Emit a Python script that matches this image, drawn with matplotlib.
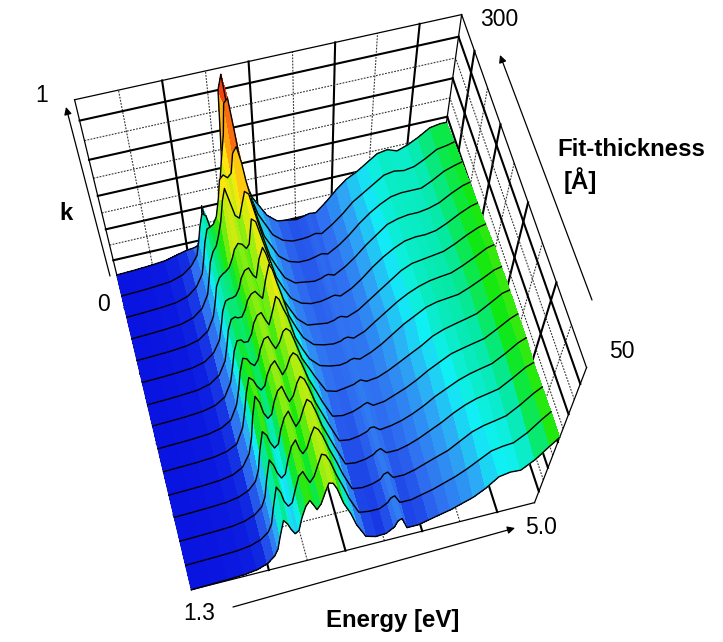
import numpy as np
import matplotlib
matplotlib.use('Agg')
import matplotlib.pyplot as plt
from matplotlib.colors import LinearSegmentedColormap
from matplotlib.patches import FancyArrowPatch

plt.rcParams['font.family'] = ['Liberation Sans', 'DejaVu Sans']

W, H = 723, 642

energy = [1.30, 1.49, 1.67, 1.86, 2.00, 2.11, 2.19, 2.23, 2.26, 2.30, 2.34, 2.37, 2.41, 2.45, 2.48, 2.52,
          2.56, 2.60, 2.63, 2.67, 2.71, 2.74, 2.78, 2.82, 2.89, 2.97, 3.04, 3.15, 3.26, 3.37, 3.45, 3.48,
          3.52, 3.59, 3.71, 3.82, 3.93, 4.04, 4.15, 4.26, 4.37, 4.48, 4.59, 4.70, 4.82, 4.93, 5.00]
thickness = [300, 282, 264, 246, 228, 210, 192, 175, 157, 139, 121, 104, 86, 68, 50]

k_300 = [.00,.004,.01,.02,.04,.055,.06,.065,.07,.13,.31,.18,.10,.10,.13,.18,.30,.55,.90,.97,.78,.60,.48,.40,.29,.22,.16,.11,.10,.09,.10,.105,.11,.105,.16,.22,.27,.30,.34,.38,.39,.37,.39,.42,.46,.47,.47]
k_282 = [.00,.004,.01,.02,.045,.09,.15,.24,.32,.40,.38,.30,.26,.30,.42,.55,.68,.80,.95,.97,.80,.66,.54,.44,.32,.24,.17,.12,.10,.10,.105,.11,.115,.105,.15,.20,.26,.30,.34,.38,.39,.38,.39,.42,.46,.47,.48]
k_264 = [.00,.004,.01,.02,.045,.095,.17,.27,.36,.44,.45,.46,.50,.60,.70,.72,.70,.72,.82,.85,.76,.66,.56,.46,.32,.24,.17,.12,.10,.10,.11,.115,.12,.11,.15,.20,.26,.31,.35,.38,.39,.39,.39,.42,.46,.48,.49]
k_246 = [.00,.004,.01,.02,.045,.095,.18,.29,.38,.44,.47,.52,.60,.72,.78,.70,.62,.60,.66,.74,.72,.65,.56,.47,.33,.24,.17,.12,.11,.10,.11,.12,.125,.11,.15,.20,.26,.31,.36,.38,.39,.39,.40,.42,.46,.49,.50]
k_228 = [.00,.004,.009,.02,.042,.09,.18,.28,.37,.42,.44,.45,.47,.52,.57,.60,.59,.56,.58,.72,.70,.64,.56,.48,.34,.25,.18,.13,.11,.11,.12,.125,.13,.115,.15,.20,.26,.31,.35,.38,.39,.39,.40,.43,.47,.50,.51]
k_210 = [.00,.004,.009,.019,.04,.09,.17,.27,.36,.42,.43,.43,.44,.48,.54,.58,.59,.54,.52,.63,.69,.65,.57,.49,.35,.26,.19,.13,.12,.11,.12,.13,.135,.12,.15,.20,.25,.30,.35,.38,.39,.40,.41,.44,.48,.51,.52]
k_192 = [.00,.004,.01,.019,.043,.092,.184,.292,.39,.454,.464,.454,.454,.497,.55,.583,.594,.562,.54,.648,.734,.702,.616,.54,.39,.29,.215,.15,.13,.12,.128,.14,.145,.127,.158,.21,.26,.31,.35,.38,.40,.41,.418,.447,.485,.524,.534]
k_175 = [.00,.004,.009,.02,.042,.088,.187,.297,.396,.462,.462,.44,.44,.484,.55,.594,.605,.55,.517,.594,.682,.66,.594,.539,.394,.294,.218,.152,.13,.119,.128,.139,.144,.128,.16,.201,.253,.305,.345,.385,.404,.412,.42,.449,.487,.525,.535]
k_157 = [.00,.005,.009,.019,.041,.085,.192,.305,.418,.508,.497,.463,.44,.475,.542,.60,.61,.554,.52,.554,.62,.633,.61,.542,.414,.325,.246,.133,.11,.121,.131,.142,.153,.131,.141,.173,.214,.256,.297,.347,.376,.395,.412,.431,.48,.527,.537]
k_139 = [.00,.005,.009,.019,.04,.08,.197,.325,.44,.545,.52,.476,.44,.464,.534,.59,.615,.557,.51,.545,.615,.638,.615,.557,.437,.334,.24,.114,.10,.112,.134,.146,.156,.122,.132,.164,.196,.238,.289,.33,.37,.389,.406,.422,.47,.518,.538]
k_121 = [.00,.004,.008,.018,.038,.083,.177,.295,.45,.59,.54,.46,.413,.437,.52,.59,.614,.543,.496,.53,.614,.65,.625,.566,.445,.338,.244,.104,.091,.103,.124,.147,.147,.112,.123,.144,.176,.218,.27,.31,.35,.378,.397,.414,.464,.52,.54]
k_104 = [.00,.004,.009,.017,.037,.073,.134,.22,.366,.51,.476,.415,.366,.39,.49,.573,.61,.537,.488,.525,.61,.66,.634,.573,.448,.336,.24,.095,.083,.094,.116,.139,.151,.104,.103,.124,.157,.20,.242,.294,.335,.364,.38,.397,.453,.51,.53]
k_086 = [.00,.004,.008,.016,.035,.07,.125,.20,.34,.49,.44,.375,.325,.35,.45,.55,.59,.51,.475,.51,.60,.65,.625,.575,.46,.345,.233,.085,.072,.083,.107,.142,.153,.094,.093,.115,.148,.18,.211,.264,.316,.344,.36,.378,.437,.502,.533]
k_068 = [.00,.004,.008,.015,.032,.065,.116,.18,.32,.48,.43,.35,.30,.32,.41,.52,.55,.49,.45,.49,.58,.645,.63,.58,.46,.34,.227,.087,.074,.073,.109,.145,.157,.084,.083,.106,.128,.16,.192,.234,.286,.337,.353,.36,.416,.494,.536]
k_050 = [.00,.004,.008,.016,.033,.066,.12,.18,.29,.42,.38,.33,.28,.30,.40,.49,.53,.48,.44,.48,.57,.63,.62,.57,.44,.335,.22,.09,.063,.069,.11,.16,.172,.073,.073,.095,.118,.139,.171,.203,.256,.33,.346,.34,.40,.485,.535]

k_rows = [k_300, k_282, k_264, k_246, k_228, k_210, k_192, k_175, k_157, k_139, k_121, k_104, k_086, k_068, k_050]

energy_grid = [1.71, 2.12, 2.53, 2.94, 3.36, 3.77, 4.18, 4.59]
thick_grid = [78, 106, 133, 161, 189, 217, 244, 272]
k_grid = [.1, .2, .3, .4, .5, .6, .7, .8, .9]

cmap = LinearSegmentedColormap.from_list('k_map', [
    (0.00, '#0a14e0'), (0.05, '#1028e0'), (0.12, '#2f6cf0'), (0.24, '#2ea8f5'), (0.34, '#10f0f5'),
    (0.42, '#05e8a0'), (0.50, '#10e810'), (0.62, '#a8ee10'), (0.72, '#ffe810'),
    (0.84, '#ff9a10'), (1.00, '#f01a10')])

fig = plt.figure(figsize=(W / 100, H / 100), dpi=100)
ax = fig.add_subplot(projection='3d', computed_zorder=False)
ax.set_xlim(1.3, 5.0)
ax.set_ylim(50, 300)
ax.set_zlim(0, 1)
ax.set_axis_off()

# camera, tuned against the box corners of the reference
box = (2.2116, 2.2167, 2.2168)
scale, cx, cy = 1700.46, 320.46, 315.12
ax.view_init(65.7234, -105.3662, -0.6852)
ax.set_box_aspect(box, zoom=np.linalg.norm(box) / (1.8294640721620434 * 25 / 24))
ax.set_position([(cx - scale * .095) / W, (H - cy - scale * .095) / H, scale * .185 / W, scale * .185 / H])


def wall_line(xs, ys, zs, dashed, zo=2):
    if dashed:
        ax.plot(xs, ys, zs, color='#333333', lw=.8, ls=(0, (1.6, 1.2)), zorder=zo)
    else:
        ax.plot(xs, ys, zs, color='black', lw=1.5, zorder=zo)


for i, e_val in enumerate(energy_grid):
    wall_line([e_val, e_val], [300, 300], [0, 1], i % 2 == 0)
    wall_line([e_val, e_val], [50, 300], [0, 0], i % 2 == 0)
for i, t_val in enumerate(thick_grid):
    wall_line([5, 5], [t_val, t_val], [0, 1], i % 2 == 0)
    wall_line([1.3, 5], [t_val, t_val], [0, 0], i % 2 == 0)
for i, k_val in enumerate(k_grid):
    wall_line([1.3, 5], [300, 300], [k_val, k_val], i % 2 == 1)
    wall_line([5, 5], [50, 300], [k_val, k_val], i % 2 == 1)

for xs, ys, zs in [([1.3, 5], [300, 300], [1, 1]), ([5, 5], [300, 50], [1, 1]), ([5, 5], [50, 50], [1, 0]),
                   ([5, 1.3], [50, 50], [0, 0]), ([1.3, 1.3], [50, 300], [0, 0]), ([1.3, 1.3], [300, 300], [0, 1]),
                   ([5, 5], [300, 300], [0, 1])]:
    ax.plot(xs, ys, zs, color='black', lw=.9, zorder=3)

# surface, drawn band by band from the back so that the row lines get hidden
z_all = np.array(k_rows)
xx = np.array(energy)
for i in range(len(thickness) - 1):
    yy = np.array(thickness[i:i + 2], float)
    X, Y = np.meshgrid(xx, yy)
    Z = z_all[i:i + 2]
    cell = (Z[0, :-1] + Z[0, 1:] + Z[1, :-1] + Z[1, 1:]) / 4
    face = np.zeros((2, len(xx), 4))
    face[:, :-1] = cmap(cell)
    face[:, -1] = cmap(cell[-1])
    ax.plot_surface(X, Y, Z, facecolors=face, rstride=1, cstride=1, shade=False,
                    antialiased=False, linewidth=0, zorder=10 + 2 * i)
    ax.plot(xx, np.full(len(xx), thickness[i]), z_all[i], color='black', lw=1.0, zorder=11 + 2 * i)
ax.plot(xx, np.full(len(xx), thickness[-1]), z_all[-1], color='black', lw=1.0, zorder=100)

for art in ax.get_children():
    art.set_clip_on(False)


def to_fig(x, y):
    return (x / W, 1 - y / H)


for (x0, y0), (x1, y1) in [((110, 276), (66, 107)), ((592, 300), (500, 55)), ((233, 607), (515, 528))]:
    fig.add_artist(FancyArrowPatch(to_fig(x0, y0), to_fig(x1, y1), transform=fig.transFigure,
                                   arrowstyle='-|>', mutation_scale=11, color='black', lw=.9,
                                   shrinkA=0, shrinkB=0))

for txt, x, y, bold, ha in [('1', 42, 96, False, 'center'), ('0', 104, 304, False, 'center'),
                            ('k', 66, 213, True, 'center'), ('300', 499, 20, False, 'center'),
                            ('50', 622, 351, False, 'center'), ('1.3', 199, 614, False, 'center'),
                            ('5.0', 541, 528, False, 'center'), ('Fit-thickness', 557, 150, True, 'left'),
                            ('[Å]', 564, 181, True, 'left'), ('Energy [eV]', 393, 620, True, 'center')]:
    fig.text(*to_fig(x, y), txt, fontsize=17.3 if bold else 16.5, fontweight='bold' if bold else 'normal',
             ha=ha, va='center', color='black')

fig.savefig('out.png', dpi=100)
